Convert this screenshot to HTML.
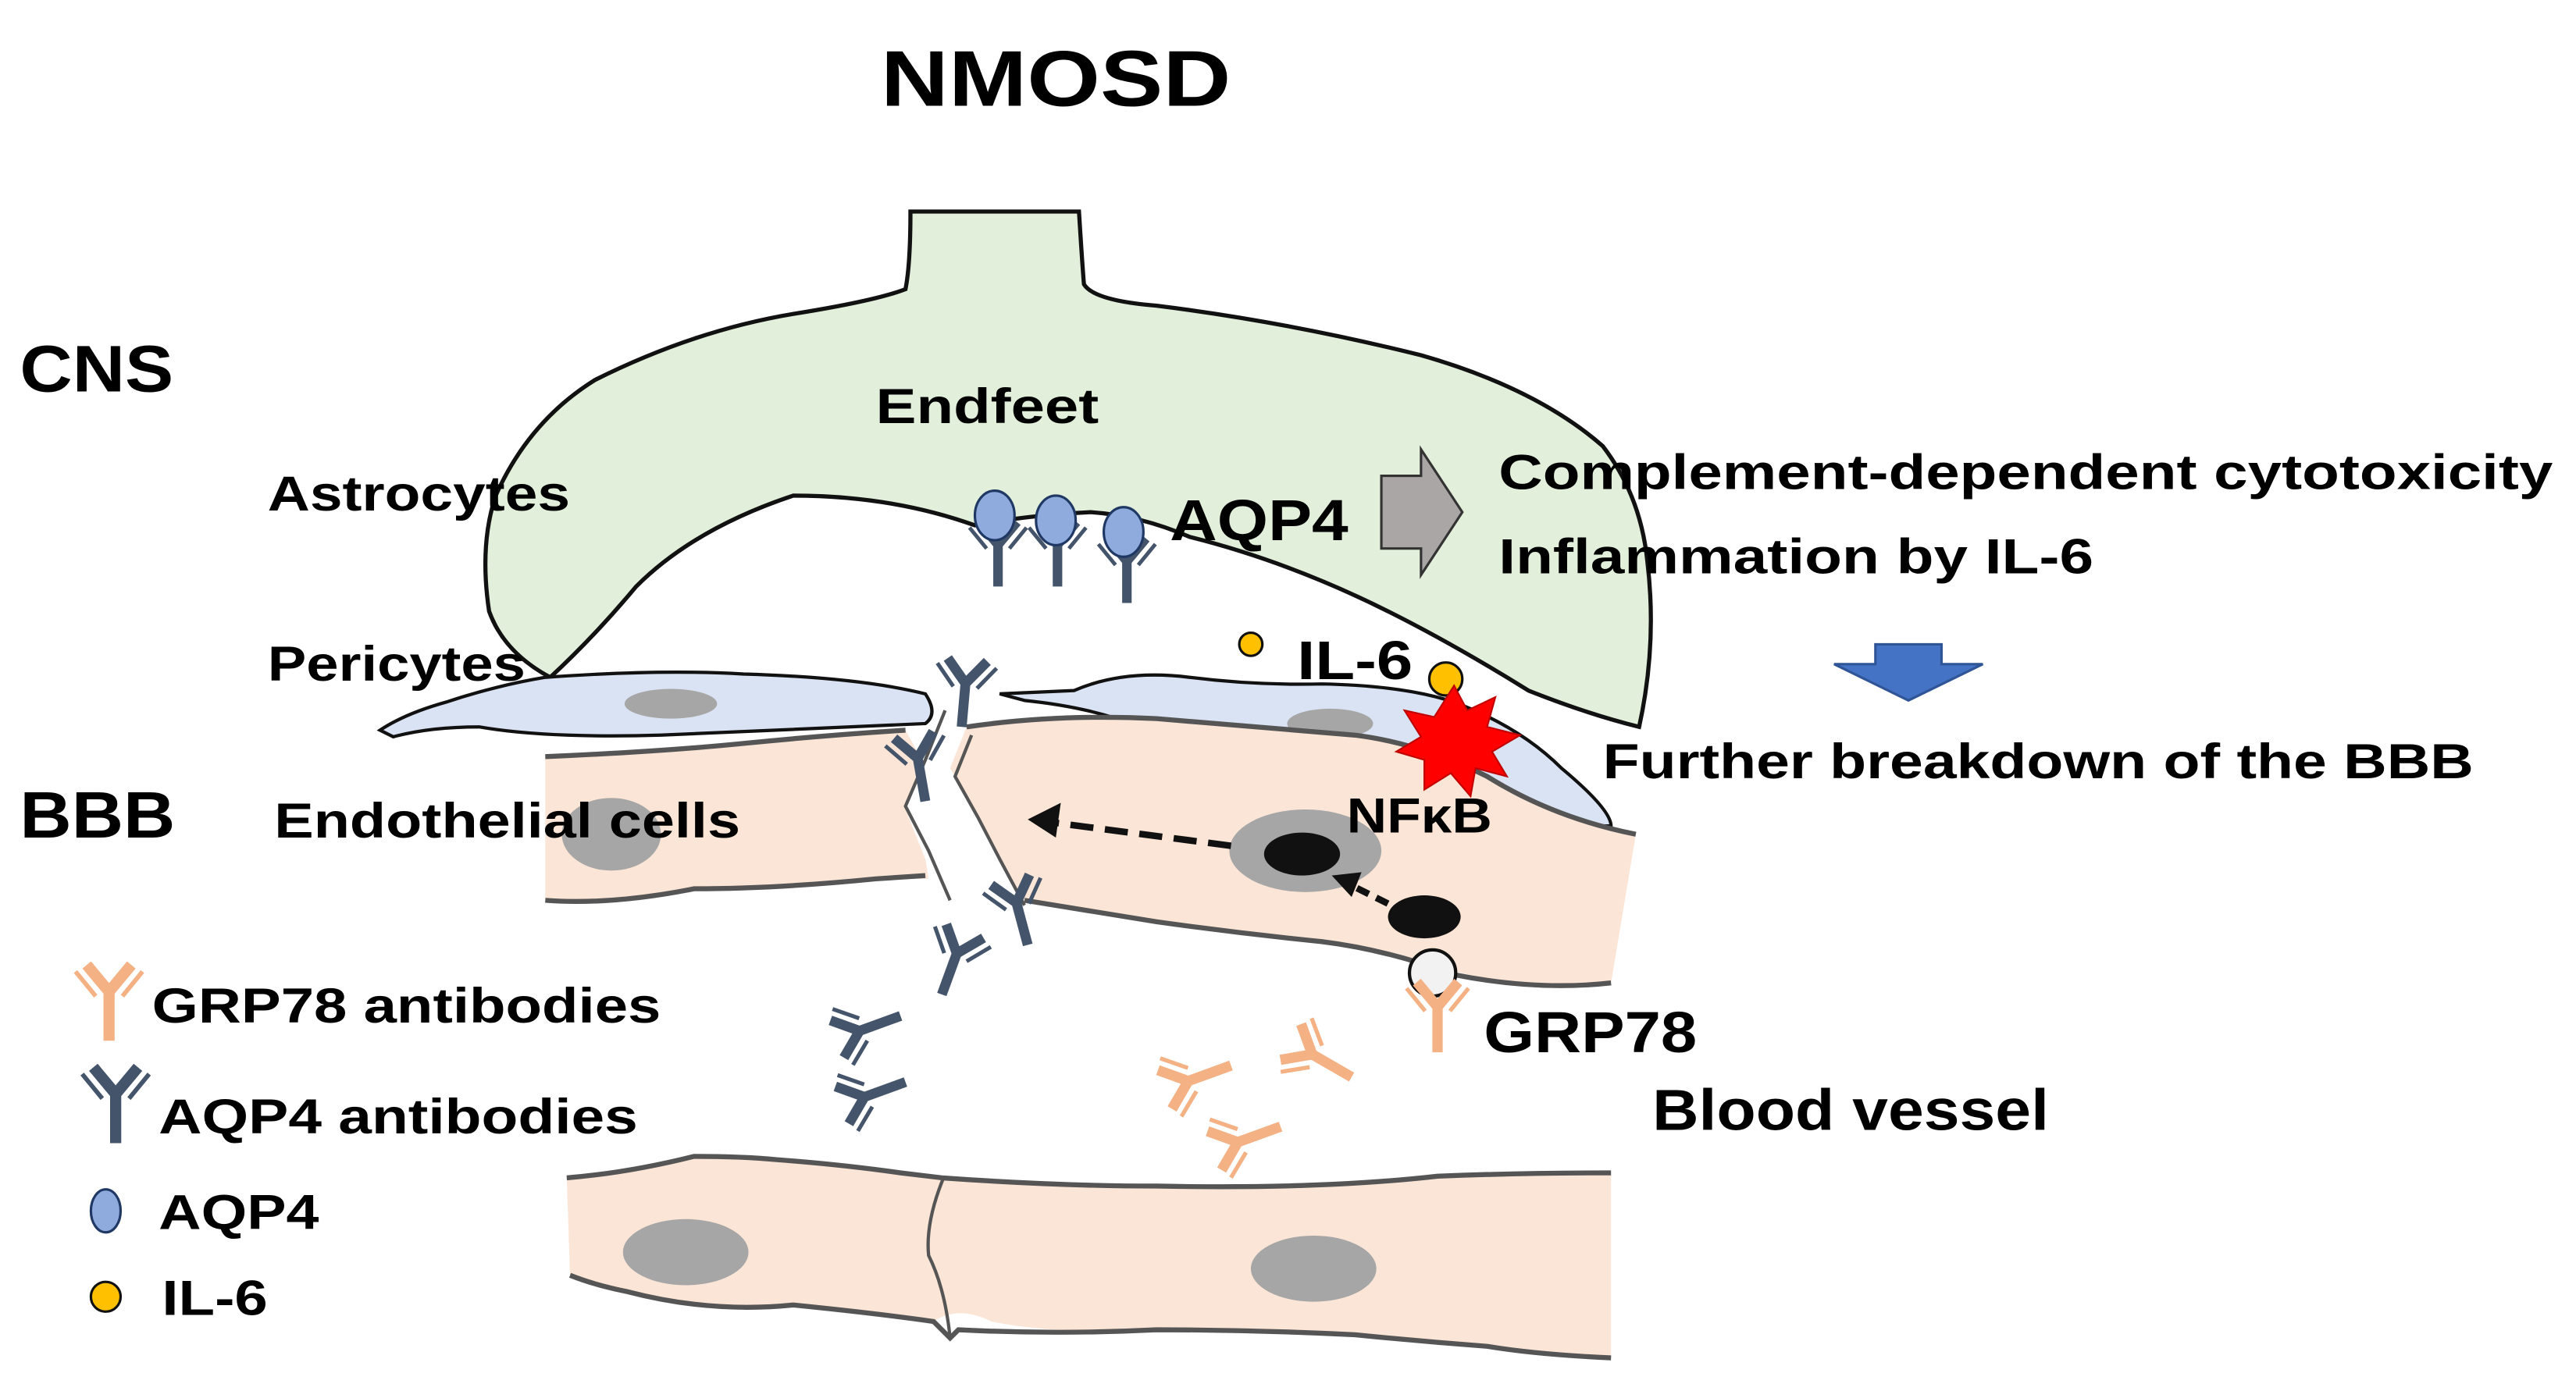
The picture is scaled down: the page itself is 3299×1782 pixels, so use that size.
<!DOCTYPE html>
<html><head><meta charset="utf-8"><style>
html,body{margin:0;padding:0;background:#fff;width:3299px;height:1782px;overflow:hidden}
svg{display:block}
text{font-family:"Liberation Sans",sans-serif;font-weight:bold;fill:#000}
</style></head><body>
<svg width="3299" height="1782" viewBox="0 0 1559 842" xmlns="http://www.w3.org/2000/svg">
<defs>
<g id="ab">
 <path d="M0,0 L0,-22 M0,-22 L-10,-34 M0,-22 L10,-34" stroke-width="5" fill="none"/>
 <path d="M-6,-20 L-15,-31 M6,-20 L15,-31" stroke-width="2" fill="none"/>
</g>
</defs>
<!-- Astrocyte -->
<path d="M551,128 L653,128 Q655,160 656,172 Q662,182 700,185 Q780,195 860,215 Q930,235 970,270 Q993,300 997,340 Q1003,390 992,440 Q960,432 925,418 Q880,390 840,370 Q780,340 720,325 Q690,312 660,310 Q620,312 590,318 Q540,300 480,300 Q420,320 385,355 Q360,385 333,410 Q305,395 296,370 Q290,330 300,300 Q320,255 360,230 Q420,200 480,190 Q530,182 548,175 Q551,160 551,128 Z" fill="#e2efda" stroke="#111" stroke-width="2.5"/>
<!-- Pericytes -->
<path d="M230,442 Q245,432 270,425 Q300,415 330,410 Q400,405 450,408 Q520,410 560,420 Q568,432 560,438 L400,445 Q330,447 290,440 Q260,440 238,446 Z" fill="#dae3f3" stroke="#111" stroke-width="2"/>
<ellipse cx="406" cy="426" rx="28" ry="9" fill="#a6a6a6"/>
<path d="M605,420 L650,418 Q680,405 720,410 Q760,415 800,414 Q850,415 880,425 Q920,440 945,465 Q975,490 975,500 Q950,500 935,490 Q900,480 860,470 Q800,465 740,462 Q700,455 690,440 Q660,428 620,424 Z" fill="#dae3f3" stroke="#111" stroke-width="2"/>
<ellipse cx="805" cy="438" rx="26" ry="9" fill="#a6a6a6"/>
<!-- Upper endothelium -->
<path d="M330,458 Q400,455 450,450 Q500,445 548,442 L558,460 L548,490 L560,520 L562,532 L530,532 Q470,538 420,538 Q370,548 330,545 Z" fill="#fbe5d6" stroke="none"/>
<path d="M330,458 Q400,455 450,450 Q500,445 548,442" fill="none" stroke="#555" stroke-width="3"/>
<path d="M330,545 Q370,548 420,538 Q470,538 530,532 L560,530" fill="none" stroke="#555" stroke-width="3"/>
<path d="M585,440 Q640,432 700,435 Q760,440 820,445 Q860,450 900,470 Q940,495 990,505 L975,595 Q930,600 880,588 Q840,575 800,570 Q750,565 700,558 Q650,550 620,545 L605,520 L590,490 L575,465 Z" fill="#fbe5d6" stroke="none"/>
<path d="M585,440 Q640,432 700,435 Q760,440 820,445 Q860,450 900,470 Q940,495 990,505" fill="none" stroke="#555" stroke-width="3"/>
<path d="M620,545 Q650,550 700,558 Q750,565 800,570 Q840,575 880,590 Q930,600 975,595" fill="none" stroke="#555" stroke-width="3"/>
<path d="M572,430 L560,460 L548,488 L562,515 L575,545 M588,445 L578,470 L592,495 L605,520 L620,548" fill="none" stroke="#555" stroke-width="2"/>
<ellipse cx="370" cy="505" rx="30" ry="22" fill="#a6a6a6"/>
<ellipse cx="790" cy="515" rx="46" ry="25" fill="#a6a6a6"/>
<ellipse cx="788" cy="517" rx="23" ry="13" fill="#111"/>
<ellipse cx="862" cy="555" rx="22" ry="13" fill="#111"/>
<circle cx="867" cy="589" r="14" fill="#f2f2f2" stroke="#111" stroke-width="2"/>
<!-- dashed arrows -->
<line x1="745" y1="512" x2="638" y2="498" stroke="#111" stroke-width="4" stroke-dasharray="14,7"/>
<polygon points="622,496 642,486 639,507" fill="#111"/>
<line x1="840" y1="547" x2="818" y2="536" stroke="#111" stroke-width="4" stroke-dasharray="8,5"/>
<polygon points="806,530 824,528 818,543" fill="#111"/>
<!-- Lower endothelium -->
<path d="M343,713 Q380,710 420,700 Q450,700 470,702 Q510,705 545,710 L570,713 Q640,718 700,718 Q800,720 870,712 Q920,710 975,710 L975,822 Q930,820 900,815 Q860,812 820,808 Q760,805 700,805 Q640,808 600,800 Q580,790 565,800 Q530,795 480,790 Q430,795 380,782 Q360,778 345,772 Z" fill="#fbe5d6" stroke="none"/>
<path d="M343,713 Q380,710 420,700 Q450,700 470,702 Q510,705 545,710 L570,713 Q640,718 700,718 Q800,720 870,712 Q920,710 975,710" fill="none" stroke="#555" stroke-width="3"/>
<path d="M345,772 Q360,778 380,782 Q430,795 480,790 Q530,795 565,800 L575,810 L580,805 Q640,808 700,805 Q760,805 820,808 Q860,812 900,815 Q930,820 975,822" fill="none" stroke="#555" stroke-width="3"/>
<path d="M571,713 Q560,740 562,760 Q572,780 575,810" fill="none" stroke="#555" stroke-width="2"/>
<ellipse cx="415" cy="758" rx="38" ry="20" fill="#a6a6a6"/>
<ellipse cx="795" cy="768" rx="38" ry="20" fill="#a6a6a6"/>
<!-- AQP4 on astrocyte -->
<g stroke="#44546a">
<use href="#ab" transform="translate(604,355) scale(1.15)"/>
<use href="#ab" transform="translate(640,355) scale(1.15)"/>
<use href="#ab" transform="translate(682,365) scale(1.15)"/>
</g>
<g fill="#8faadc" stroke="#1f3864" stroke-width="1.5">
<ellipse cx="602" cy="312" rx="12" ry="15"/>
<ellipse cx="639" cy="315" rx="12" ry="15"/>
<ellipse cx="680" cy="322" rx="12" ry="15"/>
</g>
<!-- AQP4 antibodies -->
<g stroke="#44546a">
<use href="#ab" transform="translate(582,440) rotate(5) scale(1.2)"/>
<use href="#ab" transform="translate(560,485) rotate(-10) scale(1.2)"/>
<use href="#ab" transform="translate(622,572) rotate(-15) scale(1.2)"/>
<use href="#ab" transform="translate(570,602) rotate(20) scale(1.2)"/>
<use href="#ab" transform="translate(545,615) rotate(-110) scale(1.2)"/>
<use href="#ab" transform="translate(548,655) rotate(-110) scale(1.2)"/>
<use href="#ab" transform="translate(70,692) scale(1.35)"/>
</g>
<g stroke="#f4b183">
<use href="#ab" transform="translate(870,637) scale(1.25)"/>
<use href="#ab" transform="translate(745,645) rotate(-110) scale(1.25)"/>
<use href="#ab" transform="translate(818,652) rotate(-60) scale(1.25)"/>
<use href="#ab" transform="translate(775,682) rotate(-110) scale(1.25)"/>
<use href="#ab" transform="translate(66,630) scale(1.35)"/>
</g>
<!-- IL-6 -->
<circle cx="757" cy="390" r="7" fill="#ffc000" stroke="#111" stroke-width="1.5"/>
<circle cx="875" cy="411" r="10" fill="#ffc000" stroke="#111" stroke-width="1.5"/>
<!-- red star -->
<polygon points="880,415 888,430 905,422 900,440 920,445 903,455 912,470 893,465 890,482 878,468 862,478 862,460 845,455 860,446 850,430 868,434" fill="#ff0000" stroke="#c00000" stroke-width="1"/>
<!-- gray arrow -->
<polygon points="836,288 860,288 860,272 885,310 860,348 860,332 836,332" fill="#aaa6a6" stroke="#333" stroke-width="1.5"/>
<!-- blue arrow -->
<polygon points="1110,402 1135,402 1135,390 1175,390 1175,402 1200,402 1155,424" fill="#4472c4" stroke="#2f5597" stroke-width="1.5"/>
<!-- legend -->
<ellipse cx="64" cy="733" rx="9" ry="13" fill="#8faadc" stroke="#1f3864" stroke-width="1.5"/>
<ellipse cx="64" cy="785" rx="9" ry="9" fill="#ffc000" stroke="#111" stroke-width="1.5"/>
<!-- text -->
<text x="533" y="64" font-size="48" textLength="212" lengthAdjust="spacingAndGlyphs">NMOSD</text>
<text x="12" y="237" font-size="40" textLength="93" lengthAdjust="spacingAndGlyphs">CNS</text>
<text x="12" y="507" font-size="40" textLength="94" lengthAdjust="spacingAndGlyphs">BBB</text>
<text x="530" y="256" font-size="30" textLength="135" lengthAdjust="spacingAndGlyphs">Endfeet</text>
<text x="162" y="309" font-size="30" textLength="183" lengthAdjust="spacingAndGlyphs">Astrocytes</text>
<text x="708" y="327" font-size="35" textLength="108" lengthAdjust="spacingAndGlyphs">AQP4</text>
<text x="907" y="296" font-size="30" textLength="638" lengthAdjust="spacingAndGlyphs">Complement-dependent cytotoxicity</text>
<text x="907" y="347" font-size="30" textLength="360" lengthAdjust="spacingAndGlyphs">Inflammation by IL-6</text>
<text x="162" y="412" font-size="30" textLength="156" lengthAdjust="spacingAndGlyphs">Pericytes</text>
<text x="785" y="411" font-size="33" textLength="70" lengthAdjust="spacingAndGlyphs">IL-6</text>
<text x="970" y="471" font-size="30" textLength="527" lengthAdjust="spacingAndGlyphs">Further breakdown of the BBB</text>
<text x="166" y="507" font-size="30" textLength="282" lengthAdjust="spacingAndGlyphs">Endothelial cells</text>
<text x="815" y="504" font-size="30" textLength="88" lengthAdjust="spacingAndGlyphs">NFκB</text>
<text x="898" y="637" font-size="35" textLength="129" lengthAdjust="spacingAndGlyphs">GRP78</text>
<text x="1000" y="684" font-size="35" textLength="240" lengthAdjust="spacingAndGlyphs">Blood vessel</text>
<text x="92" y="619" font-size="30" textLength="308" lengthAdjust="spacingAndGlyphs">GRP78 antibodies</text>
<text x="96" y="686" font-size="30" textLength="290" lengthAdjust="spacingAndGlyphs">AQP4 antibodies</text>
<text x="96" y="744" font-size="30" textLength="97" lengthAdjust="spacingAndGlyphs">AQP4</text>
<text x="98" y="796" font-size="30" textLength="64" lengthAdjust="spacingAndGlyphs">IL-6</text>
</svg>
</body></html>
